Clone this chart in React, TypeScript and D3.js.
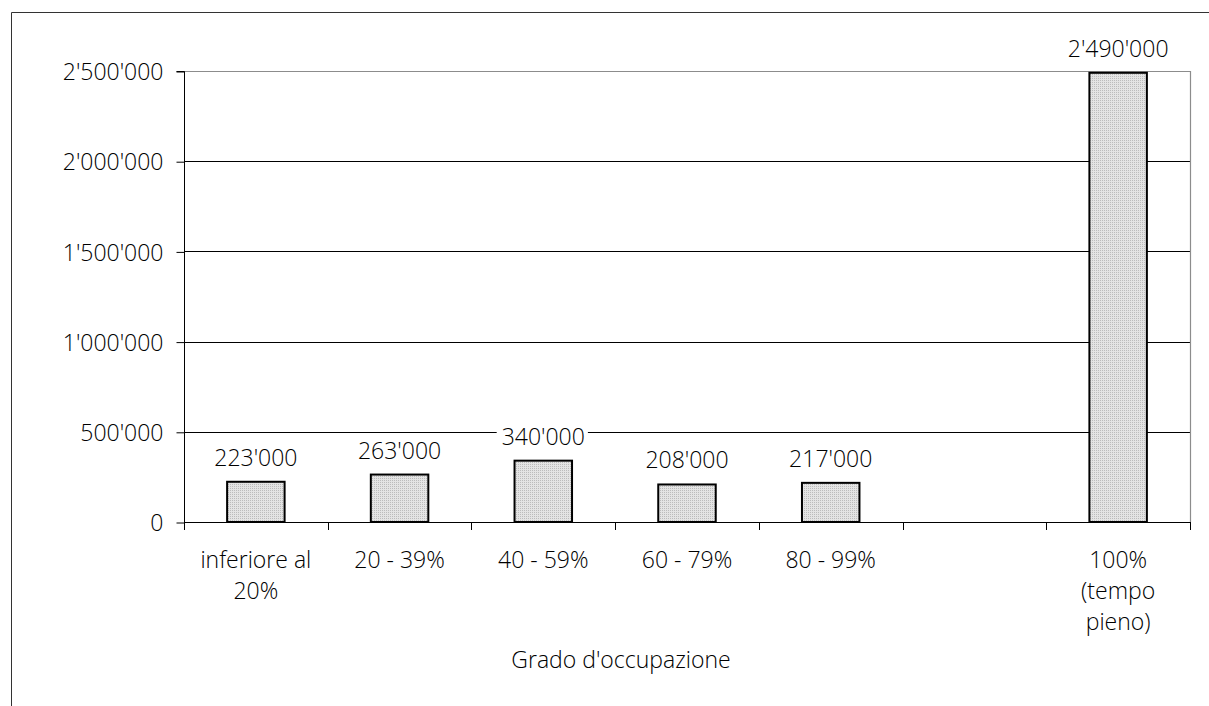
import React, { useEffect, useRef } from "react";
import * as d3 from "d3";

// Grado d'occupazione — number of employed persons by level of employment
const categories = [
  "inferiore al|20%",
  "20 - 39%",
  "40 - 59%",
  "60 - 79%",
  "80 - 99%",
  "",
  "100%|(tempo|pieno)",
];
const values: (number | null)[] = [223000, 263000, 340000, 208000, 217000, null, 2490000];
const yTicks = [0, 500000, 1000000, 1500000, 2000000, 2500000];
const axisTitle = "Grado d'occupazione";

const W = 1209;
const H = 706;
const FONT = "'Open Sans', 'Noto Sans', sans-serif";
const WEIGHT = 300;

const fmt = (v: number) => d3.format(",")(v).replace(/,/g, "'");

export default function App() {
  const ref = useRef<SVGSVGElement>(null);

  useEffect(() => {
    const svg = d3.select(ref.current);
    svg.selectAll("*").remove();

    const plot = { left: 184, right: 1190, top: 71, bottom: 522 };

    const x = d3
      .scaleBand<number>()
      .domain(d3.range(categories.length))
      .range([plot.left, plot.right])
      .padding(0);
    const y = d3.scaleLinear().domain([0, 2500000]).range([plot.bottom, plot.top]);

    // dotted grey fill for the bars
    const defs = svg.append("defs");
    const pat = defs
      .append("pattern")
      .attr("id", "dots")
      .attr("width", 2)
      .attr("height", 2)
      .attr("patternUnits", "userSpaceOnUse");
    pat.append("rect").attr("width", 2).attr("height", 2).attr("fill", "#e4e4e4");
    pat.append("rect").attr("width", 1).attr("height", 1).attr("fill", "#bcbcbc");

    svg.append("rect").attr("width", W).attr("height", H).attr("fill", "#fff");

    // outer chart frame
    svg
      .append("path")
      .attr("d", `M11.5,${H} V12.5 H${W}`)
      .attr("fill", "none")
      .attr("stroke", "#333")
      .attr("stroke-width", 1);

    // horizontal gridlines
    svg
      .append("g")
      .selectAll("line")
      .data(yTicks.filter((t) => t > 0 && t < 2500000))
      .join("line")
      .attr("x1", plot.left)
      .attr("x2", plot.right)
      .attr("y1", (d) => Math.round(y(d)) + 0.5)
      .attr("y2", (d) => Math.round(y(d)) + 0.5)
      .attr("stroke", "#000")
      .attr("stroke-width", 1);

    // plot area border (top and right)
    svg
      .append("path")
      .attr("d", `M${plot.left},${plot.top + 0.5} H${plot.right + 0.5} V${plot.bottom}`)
      .attr("fill", "none")
      .attr("stroke", "#8c8c8c")
      .attr("stroke-width", 1.2);

    // y axis
    const yAxis = svg
      .append("g")
      .attr("transform", `translate(${plot.left + 0.5},0.5)`)
      .call(
        d3
          .axisLeft(y)
          .tickValues(yTicks)
          .tickSize(8)
          .tickPadding(13)
          .tickFormat((d) => fmt(d as number))
      );
    yAxis.select(".domain").attr("stroke", "#000").attr("d", `M-8,${plot.top}H0V${plot.bottom}`);
    yAxis.selectAll(".tick line").attr("stroke", "#000");
    yAxis
      .selectAll(".tick text")
      .attr("font-family", FONT)
      .attr("font-weight", WEIGHT)
      .attr("font-size", 23)
      .attr("fill", "#000")
      .attr("dy", "0.36em");

    // x axis baseline and tick marks at category boundaries
    const boundaries = d3.range(categories.length + 1).map((i) =>
      i < categories.length ? (x(i) as number) : plot.right
    );
    svg
      .append("line")
      .attr("x1", plot.left)
      .attr("x2", plot.right + 1)
      .attr("y1", plot.bottom + 0.5)
      .attr("y2", plot.bottom + 0.5)
      .attr("stroke", "#000");
    svg
      .append("g")
      .selectAll("line")
      .data(boundaries)
      .join("line")
      .attr("x1", (d) => Math.round(d) + 0.5)
      .attr("x2", (d) => Math.round(d) + 0.5)
      .attr("y1", plot.bottom)
      .attr("y2", plot.bottom + 8)
      .attr("stroke", "#000");

    // bars
    const bw = x.bandwidth() * 0.4;
    const data = values.map((v, i) => ({ v, i })).filter((d) => d.v !== null) as {
      v: number;
      i: number;
    }[];
    const cx = (i: number) => (x(i) as number) + x.bandwidth() / 2;

    svg
      .append("g")
      .selectAll("rect")
      .data(data)
      .join("rect")
      .attr("x", (d) => cx(d.i) - bw / 2)
      .attr("width", bw)
      .attr("y", (d) => y(d.v))
      .attr("height", (d) => plot.bottom - y(d.v))
      .attr("fill", "url(#dots)")
      .attr("stroke", "#000")
      .attr("stroke-width", 2);

    // value labels with a white backing
    const labels = svg
      .append("g")
      .selectAll("g")
      .data(data)
      .join("g")
      .attr("transform", (d) => `translate(${cx(d.i)},${y(d.v) - 16})`);
    const texts = labels
      .append("text")
      .attr("text-anchor", "middle")
      .attr("font-family", FONT)
      .attr("font-weight", WEIGHT)
      .attr("font-size", 23)
      .attr("fill", "#000")
      .text((d) => fmt(d.v));
    texts.each(function () {
      const bb = (this as SVGTextElement).getBBox();
      d3.select((this as SVGTextElement).parentNode as SVGGElement)
        .insert("rect", "text")
        .attr("x", bb.x - 5)
        .attr("y", bb.y)
        .attr("width", bb.width + 8)
        .attr("height", bb.height)
        .attr("fill", "#fff");
    });

    // category labels (multi-line)
    const cat = svg
      .append("g")
      .selectAll("text")
      .data(categories.map((c, i) => ({ c, i })))
      .join("text")
      .attr("text-anchor", "middle")
      .attr("font-family", FONT)
      .attr("font-weight", WEIGHT)
      .attr("font-size", 23)
      .attr("fill", "#000")
      .attr("x", (d) => cx(d.i))
      .attr("y", 568);
    cat
      .selectAll("tspan")
      .data((d) => d.c.split("|").filter((s) => s.length > 0))
      .join("tspan")
      .attr("x", function () {
        return d3.select((this as SVGTSpanElement).parentNode as SVGTextElement).attr("x");
      })
      .attr("dy", (_, j) => (j === 0 ? 0 : 31))
      .text((s) => s);

    // axis title
    svg
      .append("text")
      .attr("x", 621)
      .attr("y", 668)
      .attr("text-anchor", "middle")
      .attr("font-family", FONT)
      .attr("font-weight", WEIGHT)
      .attr("font-size", 23)
      .attr("fill", "#000")
      .text(axisTitle);
  }, []);

  return (
    <svg
      ref={ref}
      width={W}
      height={H}
      style={{ position: "absolute", left: 0, top: 0, display: "block" }}
    />
  );
}
